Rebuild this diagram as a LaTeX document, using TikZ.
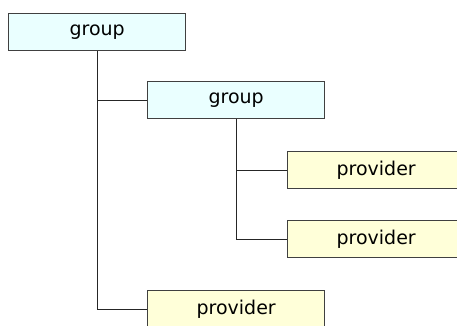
\documentclass[tikz,border=0pt]{standalone}
\usepackage{fontspec}
\setmainfont{DejaVu Sans}
\definecolor{groupfill}{HTML}{EAFFFF}
\definecolor{provfill}{HTML}{FFFFD9}
\begin{document}
\begin{tikzpicture}[x=1pt,y=-1pt,
  box/.style={draw=black!75, line width=1.3pt, minimum width=177pt, minimum height=37pt,
    inner sep=0pt, font=\fontsize{19}{22}\selectfont, anchor=north west},
  grp/.style={box, fill=groupfill},
  prov/.style={box, fill=provfill},
  conn/.style={draw=black!85, line width=1pt}]
\useasboundingbox (0,0) rectangle (457,325);
\clip (0,0) rectangle (457,325);
\node[grp] (g1) at (8,13) {group};
\node[grp] (g2) at (147,81) {group};
\node[prov] (p1) at (287,151) {provider};
\node[prov] (p2) at (287,220) {provider};
\node[prov] (p3) at (147,290) {provider};
\draw[conn] (g1.south) |- (p3.west);
\draw[conn] (g1.south |- g2.west) -- (g2.west);
\draw[conn] (g2.south) |- (p2.west);
\draw[conn] (g2.south |- p1.west) -- (p1.west);
\end{tikzpicture}
\end{document}
